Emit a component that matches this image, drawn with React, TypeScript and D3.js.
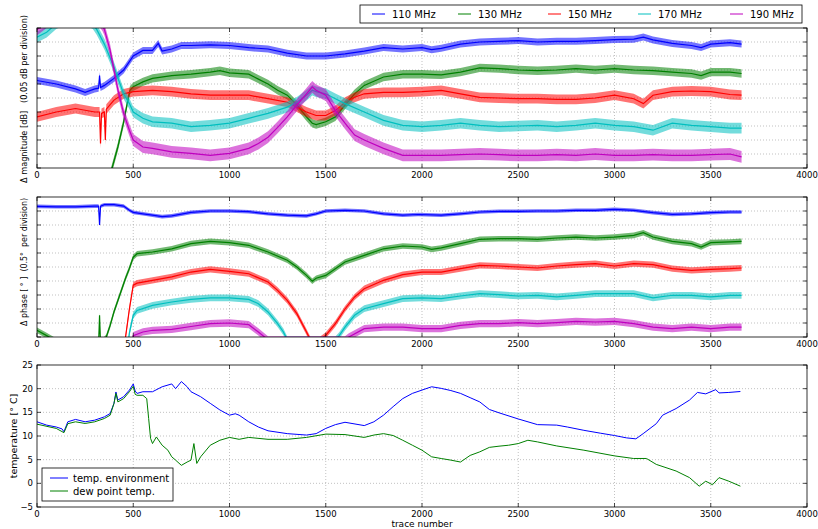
import * as d3 from "d3";
import React from "react";

// x axis, shared by all three panels
const xTicks = [0, 500, 1000, 1500, 2000, 2500, 3000, 3500, 4000];
const freqLabels = ["110 MHz", "130 MHz", "150 MHz", "170 MHz", "190 MHz"];
const freqColors = ["#0000ff", "#008000", "#ff0000", "#00bfbf", "#bf00bf"];
const divTicks = d3.range(0, 11);
const tempTicks = [-5, 0, 5, 10, 15, 20, 25];

// magnitude, in divisions of 0.05 dB ([trace, value])
const mag110 = [[0,6.25],[100,6.0],[200,5.65],[250,5.4],[300,5.65],[320,5.7],[325,6.6],[330,5.75],[350,5.9],[400,6.4],[450,7.0],[500,8.0],[550,8.4],[600,8.4],[630,8.9],[650,8.35],[700,8.5],[750,8.75],[800,8.75],[900,8.8],[1000,8.75],[1100,8.6],[1200,8.5],[1300,8.2],[1400,8.0],[1500,8.0],[1600,8.15],[1700,8.35],[1800,8.6],[1900,8.5],[2000,8.6],[2050,8.45],[2100,8.55],[2200,8.85],[2300,9.0],[2400,9.05],[2500,9.1],[2600,9.0],[2700,9.05],[2800,9.05],[2900,9.1],[3000,9.17],[3100,9.2],[3150,9.35],[3200,9.15],[3300,8.9],[3400,8.75],[3450,8.6],[3500,8.85],[3600,8.95],[3660,8.85]];
const mag130 = [[0,-3],[300,-3],[380,-0.5],[400,0.5],[420,1.5],[449,3.2],[470,4.7],[483,5.55],[500,5.8],[550,6.15],[600,6.4],[700,6.6],[800,6.7],[900,6.85],[950,6.95],[1000,6.8],[1100,6.7],[1150,6.35],[1200,6.0],[1250,5.55],[1300,5.2],[1350,4.5],[1400,3.65],[1430,3.2],[1450,3.1],[1500,3.3],[1550,3.65],[1600,4.5],[1650,5.3],[1700,5.9],[1800,6.5],[1900,6.7],[2000,6.7],[2100,6.65],[2200,6.85],[2300,7.15],[2400,7.1],[2500,7.0],[2600,6.95],[2700,7.0],[2800,7.1],[2900,7.0],[3000,7.1],[3100,7.0],[3200,6.95],[3300,6.85],[3400,6.75],[3450,6.6],[3500,6.85],[3600,6.85],[3660,6.75]];
const mag150 = [[0,3.65],[100,4.0],[200,4.25],[300,4.0],[325,4.0],[330,1.75],[335,3.9],[350,4.0],[355,2.0],[360,4.2],[400,4.85],[450,5.3],[500,5.45],[600,5.55],[700,5.45],[800,5.3],[900,5.2],[1000,5.2],[1100,5.2],[1200,4.95],[1300,4.7],[1350,4.35],[1400,4.0],[1450,3.75],[1500,3.75],[1550,4.1],[1600,4.7],[1650,5.05],[1700,5.3],[1800,5.4],[1900,5.4],[2000,5.45],[2100,5.55],[2200,5.3],[2300,5.05],[2400,5.0],[2500,4.95],[2600,4.95],[2700,4.9],[2800,4.9],[2900,5.0],[3000,5.2],[3100,4.95],[3150,4.6],[3200,5.2],[3300,5.45],[3400,5.5],[3500,5.45],[3600,5.25],[3660,5.2]];
const mag170 = [[0,9.35],[50,9.7],[100,10.3],[200,11],[290,10.3],[310,9.9],[350,8.85],[400,7.2],[450,5.3],[480,4.6],[500,4.0],[550,3.55],[600,3.3],[700,3.2],[800,2.95],[900,3.05],[1000,3.2],[1100,3.55],[1200,3.9],[1300,4.35],[1350,4.7],[1400,5.2],[1430,5.55],[1450,5.45],[1500,5.3],[1550,4.95],[1600,4.6],[1700,4.0],[1800,3.4],[1900,3.05],[2000,2.95],[2100,3.05],[2200,3.2],[2300,3.05],[2400,2.95],[2500,3.0],[2600,3.05],[2700,2.95],[2800,3.05],[2900,3.2],[3000,3.05],[3100,2.95],[3200,2.7],[3300,3.2],[3400,3.05],[3500,2.95],[3600,2.85],[3660,2.85]];
const mag190 = [[0,9.9],[30,10.2],[100,11],[300,11],[340,10.2],[350,9.9],[380,8.4],[400,7.0],[420,5.6],[450,3.9],[480,2.7],[500,2.0],[550,1.5],[600,1.4],[700,1.15],[800,1.05],[900,0.9],[1000,1.05],[1100,1.4],[1150,1.75],[1200,2.2],[1250,2.9],[1300,3.65],[1350,4.5],[1400,5.3],[1430,5.8],[1450,5.55],[1500,5.2],[1550,4.1],[1600,3.2],[1650,2.35],[1700,2.0],[1800,1.4],[1900,0.9],[2000,0.9],[2100,0.9],[2200,0.95],[2300,1.0],[2400,0.95],[2500,0.9],[2600,0.9],[2700,0.95],[2800,0.9],[2900,1.0],[3000,0.9],[3100,0.9],[3200,0.95],[3300,0.9],[3400,0.9],[3500,0.95],[3600,1.0],[3660,0.8]];
const magNoise = [0.25, 0.3, 0.35, 0.38, 0.42];

// phase, in divisions of 0.5 deg
const ph110 = [[0,9.33],[100,9.3],[200,9.3],[300,9.35],[320,9.35],[325,8.0],[330,9.35],[350,9.45],[400,9.45],[450,9.35],[480,9.05],[500,8.9],[550,8.8],[600,8.7],[650,8.6],[700,8.65],[800,8.9],[900,9.0],[1000,9.0],[1100,8.95],[1200,8.8],[1300,8.7],[1400,8.65],[1450,8.8],[1500,9.0],[1600,9.05],[1700,9.0],[1800,8.8],[1900,8.7],[1980,8.75],[2100,8.7],[2200,8.8],[2300,8.93],[2400,8.98],[2500,8.98],[2600,9.0],[2700,9.0],[2800,9.05],[2900,9.05],[3000,9.12],[3100,9.05],[3200,8.88],[3300,8.76],[3400,8.8],[3500,8.88],[3600,8.93],[3660,8.93]];
const ph130 = [[0,0.48],[50,0.1],[100,-0.3],[300,-1],[320,-0.5],[325,1.55],[330,-0.5],[360,0],[380,0.83],[400,1.8],[430,3.0],[460,4.2],[480,4.9],[500,5.7],[520,5.95],[600,6.07],[700,6.3],[800,6.67],[900,6.83],[1000,6.74],[1100,6.55],[1200,6.07],[1300,5.48],[1350,5.0],[1400,4.4],[1430,3.98],[1450,4.2],[1500,4.4],[1550,4.88],[1600,5.36],[1700,5.83],[1800,6.3],[1900,6.5],[2000,6.43],[2050,6.26],[2100,6.36],[2200,6.67],[2300,6.98],[2400,7.02],[2500,7.02],[2600,6.98],[2700,7.07],[2800,7.14],[2900,7.07],[3000,7.14],[3100,7.26],[3150,7.45],[3200,7.14],[3300,6.83],[3400,6.67],[3450,6.43],[3500,6.74],[3600,6.79],[3660,6.83]];
const ph150 = [[0,-2],[440,-2],[460,0],[480,2.0],[500,3.7],[520,3.85],[600,4.05],[700,4.3],[800,4.64],[900,4.83],[1000,4.69],[1100,4.52],[1200,3.93],[1250,3.33],[1300,2.62],[1350,1.67],[1400,0.36],[1420,-0.2],[1470,-0.2],[1500,0.12],[1550,0.95],[1600,2.0],[1650,2.86],[1700,3.45],[1800,4.05],[1900,4.45],[2000,4.64],[2100,4.64],[2200,4.88],[2300,5.12],[2400,5.07],[2500,5.0],[2600,4.93],[2700,5.07],[2800,5.17],[2900,5.24],[3000,5.07],[3100,5.24],[3200,5.17],[3300,4.88],[3400,4.76],[3500,4.83],[3600,4.88],[3660,4.93]];
const ph170 = [[0,-2],[460,-2],[480,0.3],[500,1.55],[520,1.9],[600,2.26],[700,2.5],[800,2.69],[900,2.79],[1000,2.79],[1100,2.69],[1150,2.38],[1200,1.79],[1250,0.95],[1280,0.36],[1300,-0.2],[1550,-0.2],[1570,0.1],[1600,0.71],[1650,1.55],[1700,2.02],[1800,2.38],[1900,2.74],[2000,2.79],[2100,2.74],[2200,2.93],[2300,3.1],[2400,3.02],[2500,2.93],[2600,2.98],[2700,2.86],[2800,2.98],[2900,3.1],[3000,3.1],[3100,3.1],[3200,2.79],[3300,2.98],[3400,2.98],[3500,2.86],[3600,2.98],[3660,2.98]];
const ph190 = [[0,-2],[480,-2],[500,0.1],[550,0.36],[600,0.48],[700,0.55],[800,0.75],[900,0.95],[1000,1.0],[1100,0.88],[1150,0.36],[1200,-0.2],[1600,-0.2],[1620,0],[1700,0.6],[1800,0.71],[1900,0.71],[2000,0.6],[2100,0.6],[2200,0.83],[2300,0.95],[2400,0.95],[2500,1.02],[2600,0.95],[2700,1.02],[2800,1.12],[2900,1.07],[3000,1.12],[3100,0.95],[3200,0.71],[3300,0.6],[3400,0.71],[3500,0.6],[3600,0.71],[3660,0.71]];
const phNoise = [0.13, 0.2, 0.22, 0.24, 0.26];

// temperatures [deg C]
const tempEnv = [[0,13.0],[50,12.3],[100,11.9],[130,11.5],[140,10.9],[160,13.0],[200,13.5],[250,13.0],[300,13.35],[350,14.05],[380,14.75],[400,16.9],[410,19.3],[420,17.6],[450,18.3],[480,19.7],[500,21.0],[510,19.5],[520,19.0],[550,19.35],[600,19.35],[650,20.4],[700,21.0],[720,20.0],[750,21.5],[780,20.4],[800,19.35],[850,18.3],[900,16.9],[950,15.5],[1000,14.4],[1030,14.7],[1050,14.4],[1100,13.0],[1150,11.9],[1200,11.1],[1300,10.5],[1400,10.2],[1450,10.5],[1500,11.6],[1550,12.4],[1600,12.9],[1700,12.2],[1750,13.0],[1800,14.4],[1850,16.2],[1900,17.9],[1950,19.0],[2000,19.7],[2050,20.4],[2100,20.06],[2150,19.6],[2200,19.0],[2250,18.1],[2300,17.2],[2350,15.6],[2400,14.9],[2500,13.6],[2600,12.4],[2700,12.3],[2755,11.9],[2841,11.2],[2926,10.6],[3000,10.1],[3063,9.6],[3111,9.4],[3149,10.5],[3217,12.6],[3250,14.4],[3320,15.8],[3390,17.6],[3431,19.2],[3474,18.9],[3526,19.8],[3543,19.1],[3594,19.2],[3654,19.4]];
const tempDew = [[0,12.5],[100,11.6],[140,10.7],[160,12.6],[200,13.0],[250,12.65],[300,13.0],[350,13.7],[380,14.4],[400,16.9],[410,19.0],[420,17.2],[450,17.9],[480,19.35],[500,20.5],[510,18.8],[520,18.6],[550,18.6],[570,17.9],[580,13.7],[590,9.5],[600,8.4],[620,9.8],[650,8.05],[680,7.0],[700,5.6],[720,4.9],[750,3.8],[780,4.5],[800,4.9],[815,8.4],[830,4.2],[850,5.6],[900,8.05],[950,9.1],[1000,9.7],[1050,9.3],[1100,9.7],[1200,9.3],[1300,9.3],[1400,9.7],[1500,10.4],[1600,10.3],[1700,9.7],[1750,10.2],[1800,10.5],[1850,10.1],[1900,9.1],[1950,8.05],[2000,7.0],[2050,5.6],[2100,5.24],[2150,4.9],[2200,4.5],[2250,5.9],[2300,6.65],[2350,7.6],[2400,7.85],[2450,8.05],[2500,8.4],[2550,9.1],[2600,8.75],[2700,7.9],[2841,7.0],[3000,5.8],[3098,5.25],[3166,5.25],[3217,4.0],[3320,2.6],[3390,1.2],[3440,-0.6],[3474,0.45],[3509,-0.3],[3543,1.2],[3594,0.45],[3654,-0.6]];
const tempLabels = ["temp. environment", "dew point temp."];

const W = 818, H = 529;
const left = 37, right = 807;
const FONT = "DejaVu Sans, sans-serif";

const x = d3.scaleLinear().domain([0, 4000]).range([left, right]);

type Pt = number[];

function Panel({ id, top, bottom, y, yTicks, yTickLabels, children }: any) {
  const grid = "#999";
  return (
    <g>
      <defs>
        <clipPath id={id}>
          <rect x={left} y={top} width={right - left} height={bottom - top} />
        </clipPath>
      </defs>
      <rect x={left} y={top} width={right - left} height={bottom - top} fill="#fff" />
      {xTicks.slice(1, -1).map((t) => (
        <line key={"gx" + t} x1={x(t)} x2={x(t)} y1={top} y2={bottom} stroke={grid} strokeWidth={0.6} strokeDasharray="1,2" />
      ))}
      {yTicks.slice(1, -1).map((t: number) => (
        <line key={"gy" + t} x1={left} x2={right} y1={y(t)} y2={y(t)} stroke={grid} strokeWidth={0.6} strokeDasharray="1,2" />
      ))}
      <g clipPath={`url(#${id})`}>{children}</g>
      {xTicks.map((t) => (
        <g key={"tx" + t}>
          <line x1={x(t)} x2={x(t)} y1={bottom} y2={bottom - 4} stroke="#000" strokeWidth={0.7} />
          <line x1={x(t)} x2={x(t)} y1={top} y2={top + 4} stroke="#000" strokeWidth={0.7} />
          <text x={x(t)} y={bottom + 10} fontSize={8.5} textAnchor="middle" fontFamily={FONT}>{t}</text>
        </g>
      ))}
      {yTicks.map((t: number) => (
        <g key={"ty" + t}>
          <line x1={left} x2={left + 4} y1={y(t)} y2={y(t)} stroke="#000" strokeWidth={0.7} />
          <line x1={right} x2={right - 4} y1={y(t)} y2={y(t)} stroke="#000" strokeWidth={0.7} />
          {yTickLabels && (
            <text x={left - 4} y={y(t) + 3} fontSize={8.5} textAnchor="end" fontFamily={FONT}>{t < 0 ? "\u2212" + Math.abs(t) : t}</text>
          )}
        </g>
      ))}
      <rect x={left} y={top} width={right - left} height={bottom - top} fill="none" stroke="#000" strokeWidth={0.8} />
    </g>
  );
}

function NoisySeries({ data, y, color, noise }: { data: Pt[]; y: any; color: string; noise: number }) {
  const band = d3.area<Pt>().x((d) => x(d[0])).y0((d) => y(d[1] - noise)).y1((d) => y(d[1] + noise));
  const line = d3.line<Pt>().x((d) => x(d[0])).y((d) => y(d[1]));
  return (
    <g>
      <path d={band(data) || ""} fill={color} opacity={0.55} />
      <path d={line(data) || ""} fill="none" stroke={color} strokeWidth={1.2} />
    </g>
  );
}

export default function App() {
  const p1 = { top: 28, bottom: 168 };
  const p2 = { top: 197, bottom: 337 };
  const p3 = { top: 365, bottom: 507 };
  const y1 = d3.scaleLinear().domain([0, 10]).range([p1.bottom, p1.top]);
  const y2 = d3.scaleLinear().domain([0, 10]).range([p2.bottom, p2.top]);
  const y3 = d3.scaleLinear().domain([-5, 25]).range([p3.bottom, p3.top]);
  const mags = [mag110, mag130, mag150, mag170, mag190];
  const phs = [ph110, ph130, ph150, ph170, ph190];
  const tLine = d3.line<Pt>().x((d) => x(d[0])).y((d) => y3(d[1]));
  const legendX = [372, 458, 548, 638, 730];

  return (
    <svg width={W} height={H} style={{ position: "absolute", left: 0, top: 0, background: "#fff" }} fontFamily={FONT}>
      <Panel id="c1" top={p1.top} bottom={p1.bottom} y={y1} yTicks={divTicks}>
        {mags.map((d, i) => (
          <NoisySeries key={i} data={d} y={y1} color={freqColors[i]} noise={magNoise[i]} />
        ))}
      </Panel>
      <Panel id="c2" top={p2.top} bottom={p2.bottom} y={y2} yTicks={divTicks}>
        {phs.map((d, i) => (
          <NoisySeries key={i} data={d} y={y2} color={freqColors[i]} noise={phNoise[i]} />
        ))}
      </Panel>
      <Panel id="c3" top={p3.top} bottom={p3.bottom} y={y3} yTicks={tempTicks} yTickLabels>
        <path d={tLine(tempEnv) || ""} fill="none" stroke="#0000ff" strokeWidth={1} />
        <path d={tLine(tempDew) || ""} fill="none" stroke="#008000" strokeWidth={1} />
      </Panel>

      {/* axis labels */}
      <text transform={`translate(27,99) rotate(-90)`} fontSize={8.5} textAnchor="middle" textLength={168} lengthAdjust="spacingAndGlyphs" style={{ whiteSpace: "pre" }}>
        {"\u0394 magnitude [dB]   (0.05 dB per division)"}
      </text>
      <text transform={`translate(27,262) rotate(-90)`} fontSize={8.5} textAnchor="middle" textLength={128} lengthAdjust="spacingAndGlyphs" style={{ whiteSpace: "pre" }}>
        {"\u0394 phase [ \u00b0 ]  (0.5\u00b0  per division)"}
      </text>
      <text transform={`translate(17,${(p3.top + p3.bottom) / 2}) rotate(-90)`} fontSize={9.5} textAnchor="middle">
        {"temperature [\u00b0 C]"}
      </text>
      <text x={(left + right) / 2} y={527} fontSize={9} textAnchor="middle">trace number</text>

      {/* top legend */}
      <rect x={360} y={5} width={442} height={18} fill="#fff" stroke="#000" strokeWidth={0.8} />
      {freqLabels.map((lab, i) => (
        <g key={lab}>
          <line x1={legendX[i]} x2={legendX[i] + 13} y1={14} y2={14} stroke={freqColors[i]} strokeWidth={1} />
          <text x={legendX[i] + 20} y={17.5} fontSize={10}>{lab}</text>
        </g>
      ))}

      {/* temperature legend */}
      <rect x={42} y={468} width={131} height={33} fill="#fff" stroke="#000" strokeWidth={0.8} />
      {tempLabels.map((lab, i) => (
        <g key={lab}>
          <line x1={50} x2={68} y1={478 + i * 13} y2={478 + i * 13} stroke={i === 0 ? "#0000ff" : "#008000"} strokeWidth={1} />
          <text x={73} y={481.5 + i * 13} fontSize={10}>{lab}</text>
        </g>
      ))}
    </svg>
  );
}
